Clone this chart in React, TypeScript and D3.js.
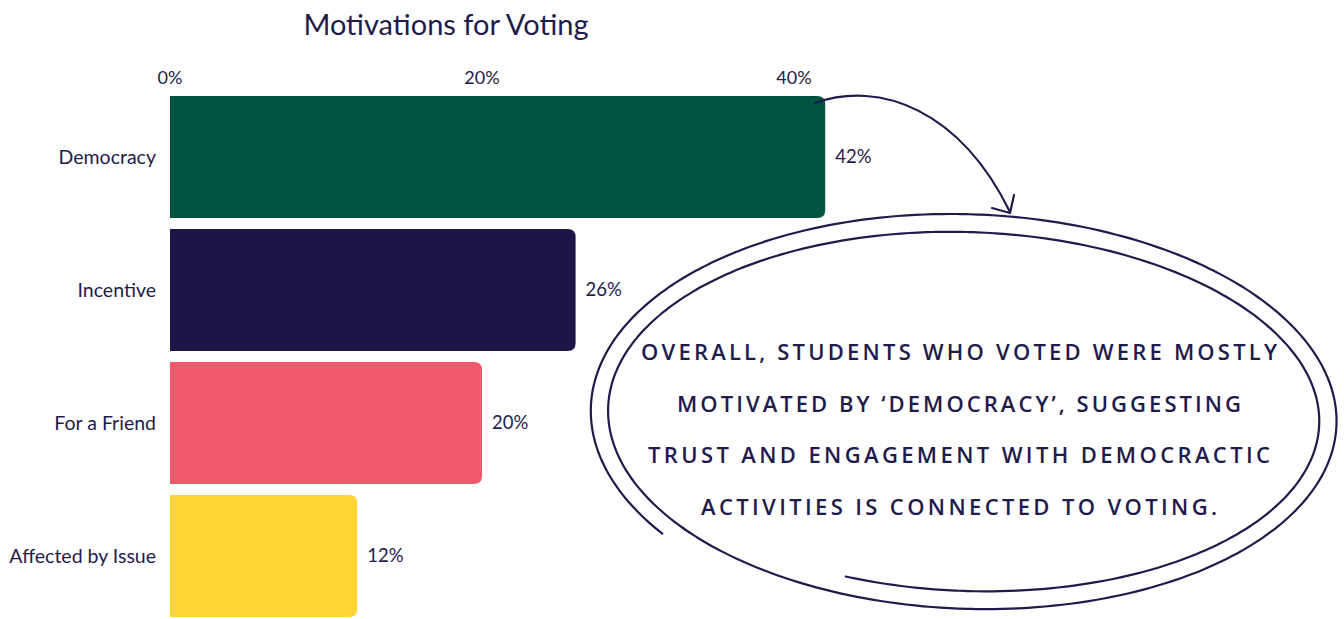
import React from "react";
import * as d3 from "d3";

const categories = ["Democracy", "Incentive", "For a Friend", "Affected by Issue"];
const values = [42, 26, 20, 12];
const barColors = ["#00533F", "#1C1547", "#F0596B", "#FCD535"];
const tickValues = [0, 20, 40];
const title = "Motivations for Voting";
const noteLines = [
  "OVERALL, STUDENTS WHO VOTED WERE MOSTLY",
  "MOTIVATED BY \u2018DEMOCRACY\u2019, SUGGESTING",
  "TRUST AND ENGAGEMENT WITH DEMOCRACTIC",
  "ACTIVITIES IS CONNECTED TO VOTING.",
];
const noteWidths = [636, 564, 622, 516];

const W = 1344;
const H = 619;
const ink = "#1F1B4B";
const font = "Lato, 'Noto Sans', sans-serif";

function barPath(x0: number, x1: number, y0: number, h: number, r: number) {
  const p = d3.path();
  p.moveTo(x0, y0);
  p.lineTo(x1 - r, y0);
  p.quadraticCurveTo(x1, y0, x1, y0 + r);
  p.lineTo(x1, y0 + h - r);
  p.quadraticCurveTo(x1, y0 + h, x1 - r, y0 + h);
  p.lineTo(x0, y0 + h);
  p.closePath();
  return p.toString();
}

function spiralPath() {
  // hand-drawn double loop around the note
  const cx = 968, cy = 416;
  const pts: [number, number][] = [];
  const deg = Math.PI / 180;
  const a0 = 143 * deg;
  const a1 = 830 * deg;
  const n = 500;
  for (let i = 0; i <= n; i++) {
    const t = i / n;
    const a = a0 + (a1 - a0) * t;
    const rx = 379 - 33 * t;
    const ry = 208 - 34 * t;
    const tilt = 0.025;
    const ex = rx * Math.cos(a);
    const ey = ry * Math.sin(a);
    pts.push([
      cx + ex * Math.cos(tilt) - ey * Math.sin(tilt),
      cy + ex * Math.sin(tilt) + ey * Math.cos(tilt),
    ]);
  }
  return d3.line().curve(d3.curveCatmullRom)(pts) || "";
}

export default function App() {
  const x = d3.scaleLinear().domain([0, 40]).range([170, 794]);
  const y = d3
    .scaleBand<string>()
    .domain(categories)
    .range([96, 617])
    .paddingInner(0.083)
    .paddingOuter(0);
  const bw = y.bandwidth();

  return (
    <svg
      width={W}
      height={H}
      style={{ position: "absolute", left: 0, top: 0, background: "#fff" }}
      fontFamily={font}
    >
      <text x={446} y={35} textAnchor="middle" fontSize={29} fill={ink}>
        {title}
      </text>
      {tickValues.map((t) => (
        <text key={t} x={x(t)} y={84} textAnchor="middle" fontSize={18} fill={ink}>
          {t}%
        </text>
      ))}
      {categories.map((c, i) => {
        const y0 = y(c) as number;
        return (
          <g key={c}>
            <path d={barPath(x(0), x(values[i]), y0, bw, 8)} fill={barColors[i]} />
            <text
              x={156}
              y={y0 + bw / 2}
              dy="0.35em"
              textAnchor="end"
              fontSize={19.5}
              fill={ink}
            >
              {c}
            </text>
            <text
              x={x(values[i]) + 10}
              y={y0 + bw / 2}
              dy="0.35em"
              fontSize={18.5}
              fill={ink}
            >
              {values[i]}%
            </text>
          </g>
        );
      })}
      <path
        d="M815,103 C880,80 960,110 1010,212"
        fill="none"
        stroke={ink}
        strokeWidth={2.2}
        strokeLinecap="round"
      />
      <path
        d="M992,208 L1010,213 L1014,195"
        fill="none"
        stroke={ink}
        strokeWidth={2.2}
        strokeLinecap="round"
        strokeLinejoin="round"
      />
      <path d={spiralPath()} fill="none" stroke={ink} strokeWidth={2.2} strokeLinecap="round" />
      {noteLines.map((l, i) => (
        <text
          key={i}
          x={959}
          y={360 + i * 51.7}
          textAnchor="middle"
          fontSize={22}
          fontWeight={600}
          fill={ink}
          fontFamily="'Open Sans', sans-serif"
          textLength={noteWidths[i]}
          lengthAdjust="spacing"
        >
          {l}
        </text>
      ))}
    </svg>
  );
}
